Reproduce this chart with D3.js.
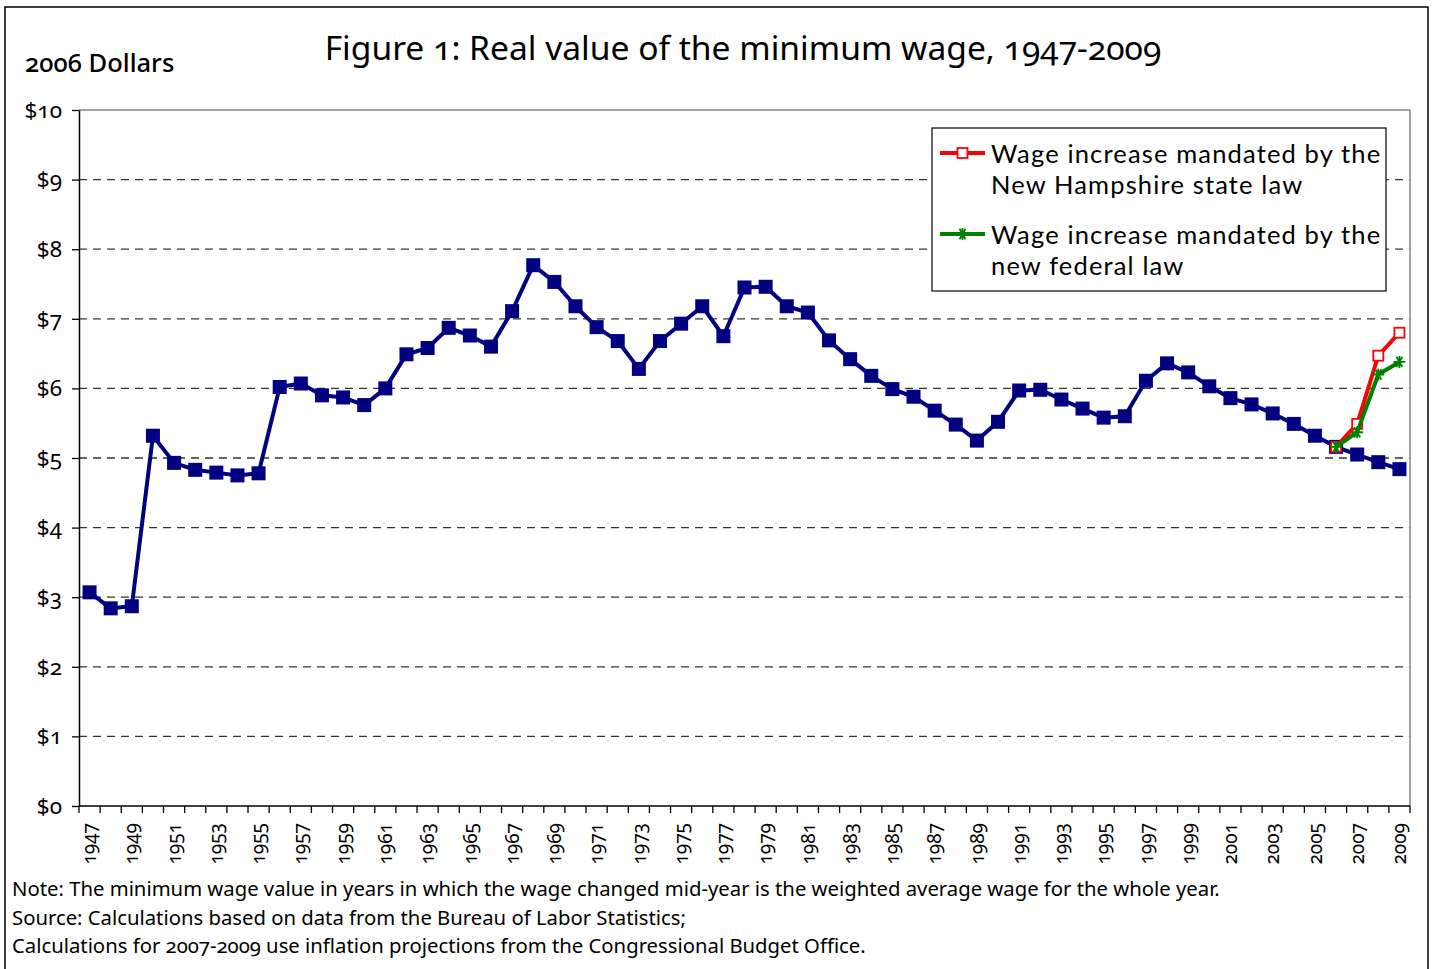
<!DOCTYPE html>
<html>
<head>
<meta charset="utf-8">
<script src="https://cdn.jsdelivr.net/npm/d3@7"></script>
<style>
  body { margin: 0; background: #fff; }
  svg text { font-family: "Noto Sans", "Open Sans", sans-serif; font-feature-settings: "onum"; fill: #000; }
  svg text.leg { font-family: Lato, "Noto Sans", sans-serif; }
</style>
</head>
<body>
<svg id="chart" width="1433" height="969"></svg>
<script>
// real minimum wage, 2006 dollars
const years = d3.range(1947, 2010);
const wage = [3.07, 2.84, 2.87, 5.32, 4.93, 4.83, 4.79, 4.75, 4.78, 6.02,
  6.07, 5.90, 5.87, 5.76, 6.00, 6.49, 6.58, 6.87, 6.76, 6.60,
  7.11, 7.77, 7.53, 7.18, 6.88, 6.68, 6.28, 6.68, 6.93, 7.18,
  6.75, 7.45, 7.46, 7.18, 7.09, 6.69, 6.42, 6.18, 5.99, 5.88,
  5.68, 5.48, 5.25, 5.52, 5.97, 5.98, 5.84, 5.71, 5.58, 5.60,
  6.11, 6.36, 6.23, 6.03, 5.86, 5.77, 5.64, 5.49, 5.32, 5.16,
  5.05, 4.94, 4.84];
const nhYears = [2006, 2007, 2008, 2009];
const nhWage = [5.16, 5.49, 6.47, 6.80];
const fedYears = [2006, 2007, 2008, 2009];
const fedWage = [5.16, 5.37, 6.20, 6.38];
const yTicks = [0, 1, 2, 3, 4, 5, 6, 7, 8, 9, 10];
const legendLabels = [
  ["Wage increase mandated by the", "New Hampshire state law"],
  ["Wage increase mandated by the", "new federal law"]
];
const notes = [
  "Note: The minimum wage value in years in which the wage changed mid-year is the weighted average wage for the whole year.",
  "Source: Calculations based on data from the Bureau of Labor Statistics;",
  "Calculations for 2007-2009 use inflation projections from the Congressional Budget Office."
];

const svg = d3.select('#chart');
const pLeft = 79, pRight = 1410, pTop = 110, pBottom = 806;

const x = d3.scaleBand().domain(years).range([pLeft, pRight]).padding(0);
const y = d3.scaleLinear().domain([0, 10]).range([pBottom, pTop]);
const cx = (yr) => x(yr) + x.bandwidth() / 2;

// outer frame
svg.append('rect').attr('x', 5).attr('y', 7).attr('width', 1423).attr('height', 990)
  .attr('fill', 'none').attr('stroke', '#000').attr('stroke-width', 1.5);

// title
svg.append('text').attr('x', 743).attr('y', 60).attr('text-anchor', 'middle')
  .style('font-size', '33.6px').text('Figure 1: Real value of the minimum wage, 1947-2009');
svg.append('text').attr('x', 25).attr('y', 72)
  .style('font-size', '25.5px').style('font-weight', 500).text('2006 Dollars');

// gridlines
svg.append('g').selectAll('line').data(yTicks.filter((d) => d > 0 && d < 10)).join('line')
  .attr('x1', pLeft).attr('x2', pRight)
  .attr('y1', (d) => y(d)).attr('y2', (d) => y(d))
  .attr('stroke', '#333').attr('stroke-width', 1.3).attr('stroke-dasharray', '8,6');

// plot border top/right
svg.append('path')
  .attr('d', `M${pLeft},${pTop}H${pRight}V${pBottom}`)
  .attr('fill', 'none').attr('stroke', '#888').attr('stroke-width', 1.5);

// y axis
const yAxis = svg.append('g').attr('transform', `translate(${pLeft},0)`)
  .call(d3.axisLeft(y).tickValues(yTicks).tickSize(7).tickSizeOuter(0).tickFormat((d) => '$' + d));
yAxis.attr('font-family', null).attr('font-size', null);
yAxis.select('.domain').attr('stroke', '#000').attr('stroke-width', 1.5);
yAxis.selectAll('.tick line').attr('stroke', '#000').attr('stroke-width', 1.3);
yAxis.selectAll('.tick text').attr('x', -17).attr('dy', '0.32em').style('font-size', '22.5px');

// x axis: ticks at band boundaries
const xg = svg.append('g');
xg.append('line').attr('x1', pLeft).attr('x2', pRight).attr('y1', pBottom).attr('y2', pBottom)
  .attr('stroke', '#000').attr('stroke-width', 1.5);
xg.selectAll('line.tk').data(years.concat([2010])).join('line').attr('class', 'tk')
  .attr('x1', (d) => d === 2010 ? pRight : x(d)).attr('x2', (d) => d === 2010 ? pRight : x(d))
  .attr('y1', pBottom).attr('y2', pBottom + 7)
  .attr('stroke', '#000').attr('stroke-width', 1.3);
xg.selectAll('text').data(years.filter((d) => (d - 1947) % 2 === 0)).join('text')
  .attr('transform', (d) => `translate(${cx(d)},${pBottom + 17}) rotate(-90)`)
  .attr('text-anchor', 'end').attr('dy', '0.35em')
  .style('font-size', '19px').text((d) => d);

// main series
const line = d3.line().x((d) => cx(d[0])).y((d) => y(d[1]));
const mainData = years.map((yr, i) => [yr, wage[i]]);
svg.append('path').datum(mainData).attr('d', line)
  .attr('fill', 'none').attr('stroke', '#000080').attr('stroke-width', 4).attr('stroke-linejoin', 'round');
svg.append('g').selectAll('rect').data(mainData).join('rect')
  .attr('x', (d) => cx(d[0]) - 7).attr('y', (d) => y(d[1]) - 7)
  .attr('width', 14).attr('height', 14).attr('fill', '#000080');

// NH series
const nhData = nhYears.map((yr, i) => [yr, nhWage[i]]);
const fedData = fedYears.map((yr, i) => [yr, fedWage[i]]);
svg.append('path').datum(nhData).attr('d', line)
  .attr('fill', 'none').attr('stroke', '#ff0000').attr('stroke-width', 4);
svg.append('g').selectAll('rect').data(nhData).join('rect')
  .attr('x', (d) => cx(d[0]) - 5).attr('y', (d) => y(d[1]) - 5)
  .attr('width', 10).attr('height', 10).attr('fill', '#fff').attr('stroke', '#ff0000').attr('stroke-width', 1.8);

// federal series
svg.append('path').datum(fedData).attr('d', line)
  .attr('fill', 'none').attr('stroke', '#008000').attr('stroke-width', 4);
function star(g, px, py, r) {
  const p = [];
  [0, 60, 120].forEach((a) => {
    const t = a * Math.PI / 180;
    p.push(`M${px - r * Math.cos(t)},${py - r * Math.sin(t)}L${px + r * Math.cos(t)},${py + r * Math.sin(t)}`);
  });
  p.push(`M${px},${py - r}V${py + r}`);
  g.append('path').attr('d', p.join('')).attr('stroke', '#008000').attr('stroke-width', 1.8).attr('fill', 'none');
}
const fg = svg.append('g');
fedData.forEach((d) => star(fg, cx(d[0]), y(d[1]), 6));

// legend
const lg = svg.append('g');
lg.append('rect').attr('x', 932).attr('y', 128).attr('width', 454).attr('height', 163)
  .attr('fill', '#fff').attr('stroke', '#000').attr('stroke-width', 1.2);
const legColors = ['#ff0000', '#008000'];
legendLabels.forEach((lines, i) => {
  const ly = 153 + i * 81;
  lg.append('line').attr('x1', 940).attr('x2', 985).attr('y1', ly).attr('y2', ly)
    .attr('stroke', legColors[i]).attr('stroke-width', 4);
  if (i === 0) {
    lg.append('rect').attr('x', 957.5).attr('y', ly - 5).attr('width', 10).attr('height', 10)
      .attr('fill', '#fff').attr('stroke', '#ff0000').attr('stroke-width', 1.8);
  } else {
    star(lg, 962.5, ly, 6);
  }
  lines.forEach((s, j) => {
    lg.append('text').attr('class', 'leg').attr('x', 991).attr('y', ly + 10 + j * 31)
      .style('font-size', '25.5px').style('letter-spacing', '1.15px').text(s);
  });
});

// notes
svg.append('g').selectAll('text').data(notes).join('text')
  .attr('x', 12).attr('y', (d, i) => 896 + i * 28.5)
  .style('font-size', '20.3px').text((d) => d);
</script>
</body>
</html>
